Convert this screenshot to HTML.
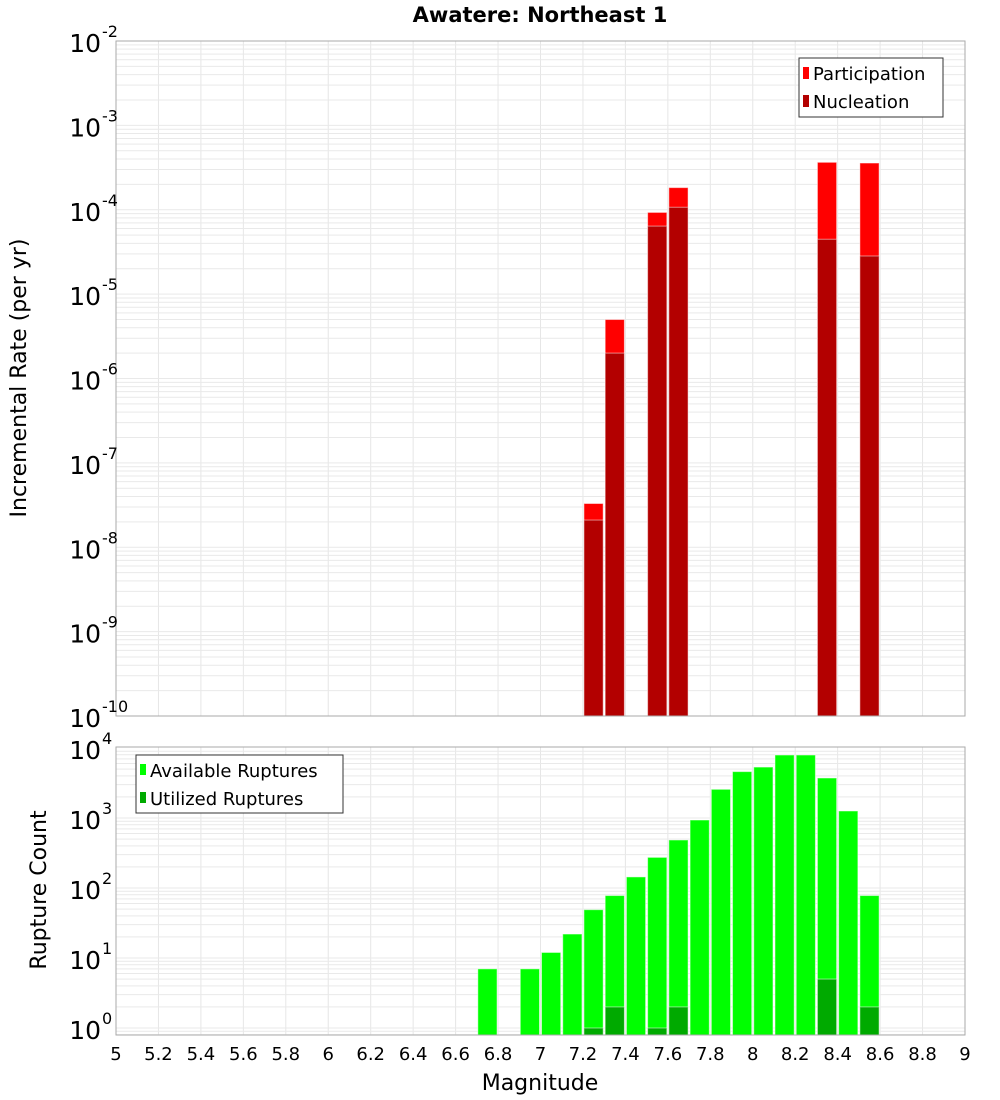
<!DOCTYPE html>
<html><head><meta charset="utf-8"><style>
html,body{margin:0;padding:0;background:#fff}
svg{display:block;font-family:"Liberation Sans","DejaVu Sans",sans-serif}
</style></head><body>
<svg id="chart" width="1000" height="1100" xmlns="http://www.w3.org/2000/svg">
<text x="540" y="22" text-anchor="middle" font-size="21" font-weight="bold" font-family="DejaVu Sans, sans-serif">Awatere: Northeast 1</text>
<text transform="translate(26,378) rotate(-90)" text-anchor="middle" font-size="22" font-family="DejaVu Sans, sans-serif">Incremental Rate (per yr)</text>
<text transform="translate(46,890) rotate(-90)" text-anchor="middle" font-size="22" font-family="DejaVu Sans, sans-serif">Rupture Count</text>
<text x="540" y="1090" text-anchor="middle" font-size="22" font-family="DejaVu Sans, sans-serif">Magnitude</text>
<g id="grid"></g>
<g id="bars"></g>
<g id="axes"></g>
<g>
<rect x="799" y="58" width="144" height="59" fill="#fff" stroke="#333" stroke-width="1"/>
<rect x="803" y="67" width="6" height="12" fill="#ff0000"/>
<text x="813" y="80" font-size="18" font-family="DejaVu Sans, sans-serif">Participation</text>
<rect x="803" y="95" width="6" height="12" fill="#b30000"/>
<text x="813" y="108" font-size="18" font-family="DejaVu Sans, sans-serif">Nucleation</text>
</g>
<g>
<rect x="136" y="755" width="207" height="58" fill="#fff" stroke="#333" stroke-width="1"/>
<rect x="140" y="764" width="6" height="11" fill="#00ff00"/>
<text x="150" y="777" font-size="18" font-family="DejaVu Sans, sans-serif">Available Ruptures</text>
<rect x="140" y="792" width="6" height="11" fill="#00aa00"/>
<text x="150" y="805" font-size="18" font-family="DejaVu Sans, sans-serif">Utilized Ruptures</text>
</g>
</svg>
<script>
const rateMags = [7.25, 7.35, 7.55, 7.65, 8.35, 8.55];
const participation = [3.3e-8, 5.0e-6, 9.3e-5, 1.83e-4, 3.65e-4, 3.58e-4];
const nucleation = [2.1e-8, 2.0e-6, 6.4e-5, 1.07e-4, 4.47e-5, 2.83e-5];
const countMags = [6.75, 6.95, 7.05, 7.15, 7.25, 7.35, 7.45, 7.55, 7.65, 7.75, 7.85, 7.95, 8.05, 8.15, 8.25, 8.35, 8.45, 8.55];
const available = [7, 7, 12, 22, 49, 78, 144, 274, 485, 936, 2570, 4600, 5340, 7940, 7940, 3730, 1260, 78];
const utilizedMags = [7.25, 7.35, 7.55, 7.65, 8.35, 8.55];
const utilized = [1, 2, 1, 2, 5, 2];
const xTicks = ["5","5.2","5.4","5.6","5.8","6","6.2","6.4","6.6","6.8","7","7.2","7.4","7.6","7.8","8","8.2","8.4","8.6","8.8","9"];
const topExps = [-2,-3,-4,-5,-6,-7,-8,-9,-10];
const botExps = [4,3,2,1,0];

const NS = "http://www.w3.org/2000/svg";
const X0 = 116, X1 = 965;
const xs = m => X0 + (m - 5) / 4 * (X1 - X0);
const TY0 = 41, TY1 = 716;
const yTop = v => TY0 + (-2 - Math.log10(v)) * (TY1 - TY0) / 8;
const BY0 = 747, BY1 = 1035;
const yBot = v => 748 + (4 - Math.log10(v)) * 70;
const bw = 0.1;

function mk(tag, attrs, parent) {
  const e = document.createElementNS(NS, tag);
  for (const k in attrs) e.setAttribute(k, attrs[k]);
  parent.appendChild(e);
  return e;
}
const grid = document.getElementById('grid');
const bars = document.getElementById('bars');
const axes = document.getElementById('axes');

// grids
for (let i = 0; i < xTicks.length; i++) {
  const x = xs(parseFloat(xTicks[i]));
  const l1 = mk('line', {x1:x, x2:x, y1:TY0, y2:TY1, stroke:'#e6e6e6'}, grid);
  
  
  const l2 = mk('line', {x1:x, x2:x, y1:BY0, y2:BY1, stroke:'#e6e6e6'}, grid);
  
  
  const t = mk('text', {x:x, y:1060, 'text-anchor':'middle', 'font-size':18, 'font-family':'DejaVu Sans, sans-serif'}, axes);
  t.textContent = xTicks[i];
  
  
}
for (let d = -10; d < -2; d++) {
  for (let k = 1; k < 10; k++) {
    const y = yTop(k * Math.pow(10, d));
    const l = mk('line', {x1:X0, x2:X1, y1:y, y2:y, stroke:'#e9e9e9'}, grid);
    
    
  }
}
for (let d = -1; d < 4; d++) {
  for (let k = 1; k < 10; k++) {
    const y = yBot(k * Math.pow(10, d));
    if (y < BY0 || y > BY1) continue;
    const l = mk('line', {x1:X0, x2:X1, y1:y, y2:y, stroke:'#e9e9e9'}, grid);
    
    
  }
}

function bar(m, v, yf, base, color, name) {
  const x = xs(m - bw / 2) + 1, w = xs(m + bw / 2) - xs(m - bw / 2) - 2;
  const y = Math.max(yf(v), 0);
  const r = mk('rect', {x:x, y:y, width:w, height:base - y, fill:color, stroke:'rgba(255,255,255,0.5)', 'stroke-width':1}, bars);
  
  
}
for (let i = 0; i < rateMags.length; i++) bar(rateMags[i], participation[i], yTop, TY1, '#ff0000', 'participation-bar');
for (let i = 0; i < rateMags.length; i++) bar(rateMags[i], nucleation[i], yTop, TY1, '#b30000', 'nucleation-bar');
for (let i = 0; i < countMags.length; i++) bar(countMags[i], available[i], yBot, BY1, '#00ff00', 'available-bar');
for (let i = 0; i < utilizedMags.length; i++) bar(utilizedMags[i], utilized[i], yBot, BY1, '#00aa00', 'utilized-bar');

// frames
const f1 = mk('rect', {x:X0, y:TY0, width:X1 - X0, height:TY1 - TY0, fill:'none', stroke:'#aaa'}, axes);


const f2 = mk('rect', {x:X0, y:BY0, width:X1 - X0, height:BY1 - BY0, fill:'none', stroke:'#aaa'}, axes);



function yLabel(y, exp, name) {
  const t = mk('text', {x:101, y:y + 11, 'text-anchor':'end', 'font-size':25, 'font-family':'DejaVu Sans, sans-serif'}, axes);
  t.textContent = '10';
  
  
  const e = mk('text', {x:102, y:y - 4, 'font-size':16, 'font-family':'DejaVu Sans, sans-serif'}, axes);
  e.textContent = String(exp);
  
  
}
topExps.forEach(e => yLabel(yTop(Math.pow(10, e)), e, 'top-y-tick-label'));
botExps.forEach(e => yLabel(yBot(Math.pow(10, e)), e, 'bottom-y-tick-label'));
</script>
</body></html>
